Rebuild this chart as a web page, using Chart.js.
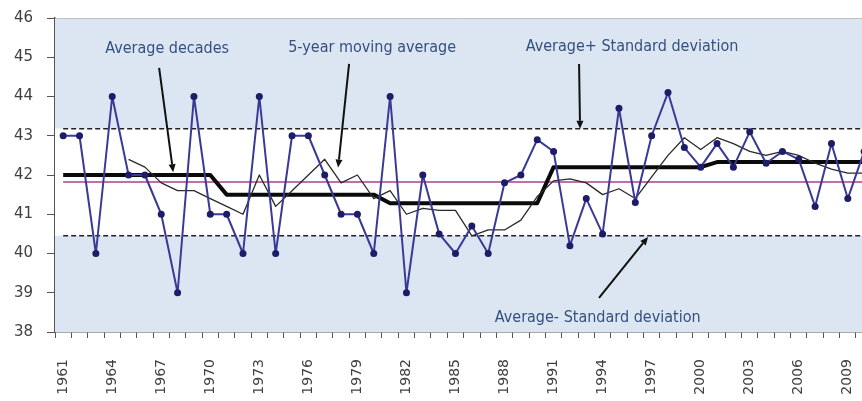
<!DOCTYPE html>
<html>
<head>
<meta charset="utf-8">
<script src="https://cdn.jsdelivr.net/npm/chart.js@4.4.1/dist/chart.umd.min.js"></script>
<style>
  html, body { margin: 0; padding: 0; background: #fff; overflow: hidden; }
  #myChart { display: block; margin-top: -5px; }
</style>
</head>
<body>
<canvas id="myChart" width="902" height="407"></canvas>
<script>
// years on the x axis
const years = ['1961','1962','1963','1964','1965','1966','1967','1968','1969','1970',
  '1971','1972','1973','1974','1975','1976','1977','1978','1979','1980',
  '1981','1982','1983','1984','1985','1986','1987','1988','1989','1990',
  '1991','1992','1993','1994','1995','1996','1997','1998','1999','2000',
  '2001','2002','2003','2004','2005','2006','2007','2008','2009','2010'];

// yearly values (blue line with dots)
const yearly = [43, 43, 40, 44, 42, 42, 41, 39, 44, 41,
  41, 40, 44, 40, 43, 43, 42, 41, 41, 40,
  44, 39, 42, 40.5, 40, 40.7, 40, 41.8, 42, 42.9,
  42.6, 40.2, 41.4, 40.5, 43.7, 41.3, 43, 44.1, 42.7, 42.2,
  42.8, 42.2, 43.1, 42.3, 42.6, 42.4, 41.2, 42.8, 41.4, 42.6];

// 5-year moving average (thin black line), starts in 1965
const movingAvg = [null, null, null, null, 42.4, 42.2, 41.8, 41.6, 41.6, 41.4,
  41.2, 41.0, 42.0, 41.2, 41.6, 42.0, 42.4, 41.8, 42.0, 41.4,
  41.6, 41.0, 41.15, 41.1, 41.1, 40.45, 40.6, 40.6, 40.85, 41.45,
  41.85, 41.9, 41.8, 41.5, 41.65, 41.4, 41.95, 42.5, 42.95, 42.65,
  42.95, 42.8, 42.6, 42.5, 42.6, 42.5, 42.3, 42.15, 42.05, 42.05];

// decade averages (thick black line): 1961-70, 71-80, 81-90, 91-2000, 2001-10
const decadeAvg = [42.0, 41.5, 41.28, 42.2, 42.33];

// overall average and average +/- standard deviation
const overallAvg = 41.82;
const avgPlusSd = 43.18;
const avgMinusSd = 40.45;

const yTicks = [38, 39, 40, 41, 42, 43, 44, 45, 46];

const decadeLine = years.map((y, i) => decadeAvg[Math.floor(i / 10)]);
const flat = v => years.map(() => v);

// text notes and arrows, in (year index, value)
const notes = [
  { text: 'Average decades', x: 6.36, y: 45.21 },
  { text: '5-year moving average', x: 18.9, y: 45.24 },
  { text: 'Average+ Standard deviation', x: 34.8, y: 45.26 },
  { text: 'Average- Standard deviation', x: 32.7, y: 38.36 }
];
const arrows = [
  [5.87, 44.73, 6.73, 42.07],
  [17.49, 44.83, 16.82, 42.19],
  [31.56, 44.83, 31.62, 43.18],
  [32.78, 38.87, 35.78, 40.42]
];

const bgPlugin = {
  id: 'bgBands',
  beforeDatasetsDraw(chart) {
    const {ctx, chartArea: a, scales: {y}} = chart;
    ctx.save();
    ctx.fillStyle = '#dce6f2';
    ctx.fillRect(a.left, a.top, a.right - a.left, a.bottom - a.top);
    const t = y.getPixelForValue(avgPlusSd), b = y.getPixelForValue(avgMinusSd);
    ctx.fillStyle = '#ffffff';
    ctx.fillRect(a.left, t, a.right - a.left, b - t);
    ctx.strokeStyle = '#bfbfbf';
    ctx.lineWidth = 1;
    ctx.beginPath();
    ctx.moveTo(a.left, a.top + 0.5);
    ctx.lineTo(a.right, a.top + 0.5);
    ctx.stroke();
    ctx.restore();
  }
};

const notesPlugin = {
  id: 'notes',
  afterDatasetsDraw(chart) {
    const {ctx, scales: {x, y}} = chart;
    ctx.save();
    ctx.font = '16px "DejaVu Sans Condensed", "DejaVu Sans", sans-serif';
    ctx.fillStyle = '#34507e';
    ctx.textAlign = 'center';
    ctx.textBaseline = 'middle';
    notes.forEach(n => ctx.fillText(n.text, x.getPixelForValue(n.x), y.getPixelForValue(n.y)));
    ctx.strokeStyle = '#111';
    ctx.fillStyle = '#111';
    ctx.lineWidth = 2;
    arrows.forEach(([x0, y0, x1, y1]) => {
      const px0 = x.getPixelForValue(x0), py0 = y.getPixelForValue(y0);
      const px1 = x.getPixelForValue(x1), py1 = y.getPixelForValue(y1);
      const ang = Math.atan2(py1 - py0, px1 - px0);
      const hl = 8, hw = 3.5;
      const bx = px1 - hl * Math.cos(ang), by = py1 - hl * Math.sin(ang);
      ctx.beginPath();
      ctx.moveTo(px0, py0);
      ctx.lineTo(bx, by);
      ctx.stroke();
      ctx.beginPath();
      ctx.moveTo(px1, py1);
      ctx.lineTo(bx + hw * Math.sin(ang), by - hw * Math.cos(ang));
      ctx.lineTo(bx - hw * Math.sin(ang), by + hw * Math.cos(ang));
      ctx.closePath();
      ctx.fill();
    });
    ctx.restore();
  }
};

new Chart(document.getElementById('myChart'), {
  type: 'line',
  data: {
    labels: years,
    datasets: [
      {
        label: 'Yearly',
        data: yearly,
        borderColor: '#3a3a96',
        borderWidth: 2,
        borderJoinStyle: 'round',
        pointRadius: 3.5,
        pointBackgroundColor: '#1c1c68',
        pointBorderColor: '#1c1c68',
        pointBorderWidth: 0,
        tension: 0
      },
      {
        label: '5-year moving average',
        data: movingAvg,
        borderColor: '#2a2a2a',
        borderWidth: 1.3,
        borderJoinStyle: 'round',
        pointRadius: 0,
        tension: 0
      },
      {
        label: 'Average decades',
        data: decadeLine,
        borderColor: '#0a0a0a',
        borderWidth: 4,
        borderJoinStyle: 'round',
        pointRadius: 0,
        tension: 0
      },
      {
        label: 'Average',
        data: flat(overallAvg),
        borderColor: '#a8428c',
        borderWidth: 1.5,
        pointRadius: 0
      },
      {
        label: 'Average + SD',
        data: flat(avgPlusSd),
        borderColor: '#222',
        borderWidth: 1.5,
        borderDash: [5, 3],
        pointRadius: 0
      },
      {
        label: 'Average - SD',
        data: flat(avgMinusSd),
        borderColor: '#222',
        borderWidth: 1.5,
        borderDash: [5, 3],
        pointRadius: 0
      }
    ]
  },
  options: {
    responsive: false,
    animation: false,
    layout: { padding: { top: 11, right: 0, bottom: 0, left: 0 } },
    plugins: {
      legend: { display: false },
      tooltip: { enabled: false }
    },
    scales: {
      x: {
        offset: true,
        grid: { offset: true, drawOnChartArea: false, drawTicks: true, tickLength: 6, color: '#555' },
        border: { display: true, color: '#555', width: 1.5 },
        ticks: {
          autoSkip: false,
          minRotation: 90,
          maxRotation: 90,
          padding: 21,
          color: '#404040',
          font: { family: 'DejaVu Sans', size: 14 },
          callback: (v, i) => (i % 3 === 0 ? years[i] : '')
        },
        afterFit: s => { s.height = 70; }
      },
      y: {
        min: 38,
        max: 46,
        afterBuildTicks: s => { s.ticks = yTicks.map(v => ({ value: v })); },
        grid: { drawOnChartArea: false, drawTicks: true, tickLength: 8, color: '#555' },
        border: { display: true, color: '#555', width: 1.5 },
        ticks: {
          padding: 14,
          color: '#404040',
          font: { family: 'DejaVu Sans', size: 15 }
        },
        afterFit: s => { s.width = 55; }
      }
    }
  },
  plugins: [bgPlugin, notesPlugin]
});
</script>
</body>
</html>
